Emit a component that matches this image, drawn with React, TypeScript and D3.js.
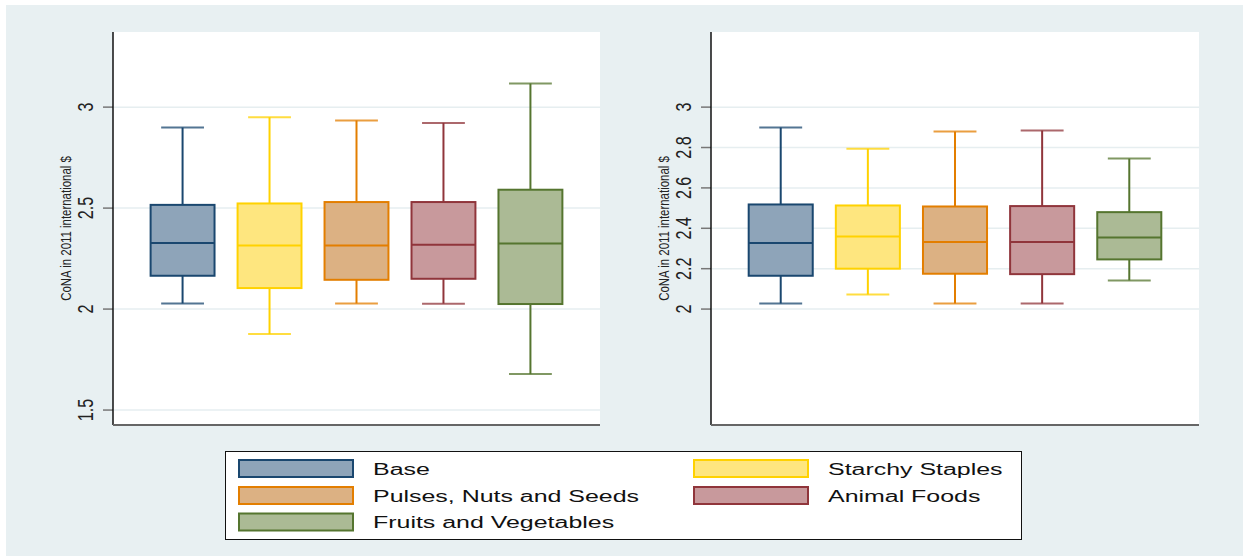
import React from "react";
import * as d3 from "d3";

// categories and colours
const categories = ["Base", "Starchy Staples", "Pulses, Nuts and Seeds", "Animal Foods", "Fruits and Vegetables"];
const strokes = ["#1a476f", "#ffd200", "#e37e00", "#90353b", "#55752f"];
const fills = ["#8ea4b9", "#fee67f", "#dcb183", "#c8999c", "#abba95"];

// left panel: [lower whisker, q1, median, q3, upper whisker]
const leftLow = [2.028, 1.876, 2.028, 2.027, 1.678];
const leftQ1 = [2.165, 2.104, 2.145, 2.15, 2.025];
const leftMed = [2.327, 2.315, 2.315, 2.318, 2.325];
const leftQ3 = [2.516, 2.523, 2.53, 2.53, 2.591];
const leftHigh = [2.899, 2.95, 2.934, 2.922, 3.117];

// right panel
const rightLow = [2.028, 2.072, 2.028, 2.028, 2.142];
const rightQ1 = [2.165, 2.2, 2.175, 2.173, 2.246];
const rightMed = [2.327, 2.36, 2.332, 2.332, 2.355];
const rightQ3 = [2.518, 2.513, 2.508, 2.51, 2.48];
const rightHigh = [2.899, 2.794, 2.879, 2.884, 2.745];

const leftTicks = [1.5, 2, 2.5, 3];
const rightTicks = [2, 2.2, 2.4, 2.6, 2.8, 3];

const yTitle = "CoNA in 2011 international $";
const W = 1243;
const H = 556;
const top = 32;
const bottom = 425;
const font = "'Liberation Sans', Arial, sans-serif";

const Panel = ({x0, x1, low, q1, med, q3, high, ticks}) => {
  const y = d3.scaleLinear().domain([1.426, 3.372]).range([bottom, top]);
  const x = d3.scalePoint().domain(categories).range([x0, x1]).padding(0.8);
  const step = x.step();
  const bw = step * 0.735;
  const cw = bw * 0.67;
  return (
    <g>
      <rect x={x0} y={top} width={x1 - x0} height={bottom - top} fill="#ffffff" />
      {ticks.map((t) => (
        <g key={t}>
          <line x1={x0} x2={x1} y1={y(t)} y2={y(t)} stroke="#e6eef0" strokeWidth={1.5} />
          <line x1={x0 - 10} x2={x0} y1={y(t)} y2={y(t)} stroke="#777" strokeWidth={1.5} />
          <text
            transform={`translate(${x0 - 20},${y(t)}) rotate(-90) scale(0.75,1)`}
            textAnchor="middle"
            fontFamily={font}
            fontSize={21.5}
            fill="#222"
          >
            {t}
          </text>
        </g>
      ))}
      <text
        transform={`translate(${x0 - 42},${(top + bottom) / 2}) rotate(-90) scale(0.8,1)`}
        textAnchor="middle"
        fontFamily={font}
        fontSize={14.3}
        fill="#222"
      >
        {yTitle}
      </text>
      {categories.map((c, i) => {
        const cx = x(c);
        return (
          <g key={c}>
            <line x1={cx} x2={cx} y1={y(high[i])} y2={y(q3[i])} stroke={strokes[i]} strokeWidth={2} />
            <line x1={cx} x2={cx} y1={y(q1[i])} y2={y(low[i])} stroke={strokes[i]} strokeWidth={2} />
            <line x1={cx - cw / 2} x2={cx + cw / 2} y1={y(high[i])} y2={y(high[i])} stroke={strokes[i]} strokeOpacity={0.75} strokeWidth={2} />
            <line x1={cx - cw / 2} x2={cx + cw / 2} y1={y(low[i])} y2={y(low[i])} stroke={strokes[i]} strokeOpacity={0.75} strokeWidth={2} />
            <rect x={cx - bw / 2} y={y(q3[i])} width={bw} height={y(q1[i]) - y(q3[i])} fill={fills[i]} stroke={strokes[i]} strokeWidth={2} />
            <line x1={cx - bw / 2} x2={cx + bw / 2} y1={y(med[i])} y2={y(med[i])} stroke={strokes[i]} strokeWidth={2} />
          </g>
        );
      })}
      <line x1={x0} x2={x0} y1={top} y2={bottom} stroke="#111" strokeWidth={1.5} />
      <line x1={x0} x2={x1} y1={bottom} y2={bottom} stroke="#666" strokeWidth={2} />
    </g>
  );
};

const Legend = () => {
  const cols = [238, 693];
  const rows = [468.5, 495.5, 522];
  return (
    <g>
      <rect x={225.5} y={451.5} width={796} height={88} fill="#ffffff" stroke="#111" strokeWidth={1} />
      {categories.map((c, i) => {
        const lx = cols[i % 2];
        const ly = rows[Math.floor(i / 2)];
        return (
          <g key={c}>
            <rect x={lx + 1} y={ly - 8.5} width={114} height={17} fill={fills[i]} stroke={strokes[i]} strokeWidth={2} />
            <text
              transform={`translate(${lx + 135},${ly + 6}) scale(1.54,1)`}
              fontFamily={font}
              fontSize={16.2}
              fill="#111"
            >
              {c}
            </text>
          </g>
        );
      })}
    </g>
  );
};

export default function App() {
  return (
    <svg width={W} height={H} style={{position: "absolute", left: 0, top: 0}}>
      <rect x={0} y={0} width={W} height={H} fill="#ffffff" />
      <rect x={6} y={5} width={W - 6} height={H - 5} fill="#e8f0f2" />
      <Panel x0={113} x1={600} low={leftLow} q1={leftQ1} med={leftMed} q3={leftQ3} high={leftHigh} ticks={leftTicks} />
      <Panel x0={711} x1={1199} low={rightLow} q1={rightQ1} med={rightMed} q3={rightQ3} high={rightHigh} ticks={rightTicks} />
      <Legend />
    </svg>
  );
}
